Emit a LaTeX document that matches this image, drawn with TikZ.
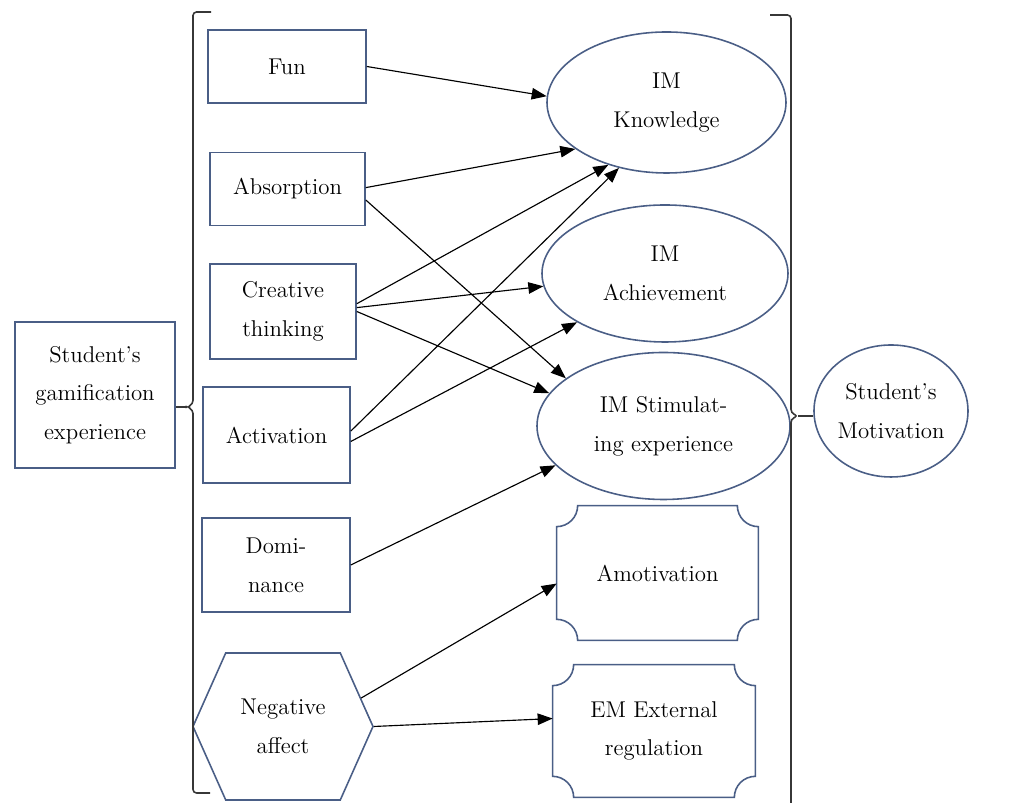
\documentclass[tikz,border=0pt]{standalone}
\usepackage{xcolor}
\usepackage{tikz}
\usetikzlibrary{arrows.meta, calc, shapes.geometric, shapes.symbols}

\definecolor{boxblue}{RGB}{74,94,134}
\definecolor{bracegray}{RGB}{55,55,55}

% frame with concave corners around a named node
\newcommand{\plaqueframe}[1]{%
	\draw[draw=boxblue, line width=0.9pt] ($(#1.north west)+(0.42,0)$) -- ($(#1.north east)+(-0.42,0)$)
		arc [start angle=180, end angle=270, radius=0.42] -- ($(#1.south east)+(0,0.42)$)
		arc [start angle=90, end angle=180, radius=0.42] -- ($(#1.south west)+(0.42,0)$)
		arc [start angle=0, end angle=90, radius=0.42] -- ($(#1.north west)+(0,-0.42)$)
		arc [start angle=270, end angle=360, radius=0.42] -- cycle;}

\begin{document}
\begin{tikzpicture}[
		every node/.style={font=\fontsize{13}{22}\selectfont, align=center},
		box/.style={draw=boxblue, line width=0.9pt, rectangle, inner sep=2pt},
		oval/.style={draw=boxblue, line width=0.9pt, ellipse, inner sep=0pt},
		link/.style={-{Triangle[length=0.3cm, width=0.23cm]}, line width=0.65pt},
		brace/.style={draw=bracegray, line width=0.9pt, rounded corners=2pt}
	]
		\useasboundingbox (0,0) rectangle (20.48,16.06);

		% left side
		\node[box, minimum width=3.2cm, minimum height=2.92cm] (gamexp) at (1.9,8.16) {Student's\\gamification\\experience};
		\node[box, minimum width=3.16cm, minimum height=1.46cm] (fun) at (5.74,14.73) {Fun};
		\node[box, minimum width=3.1cm, minimum height=1.46cm] (absorp) at (5.75,12.28) {Absorption};
		\node[box, minimum width=2.92cm, minimum height=1.9cm] (creat) at (5.66,9.83) {Creative\\thinking};
		\node[box, minimum width=2.94cm, minimum height=1.92cm] (activ) at (5.53,7.36) {Activation};
		\node[box, minimum width=2.96cm, minimum height=1.88cm] (domin) at (5.52,4.76) {Domi-\\nance};
		\node[draw=boxblue, line width=0.9pt, signal, signal to=west and east, signal pointer angle=132,
			minimum width=3.6cm, minimum height=2.94cm, inner sep=0pt] (negaff) at (5.66,1.53) {Negative\\affect};

		% right side
		\node[oval, minimum width=4.78cm, minimum height=2.82cm] (know) at (13.33,14.01) {IM\\Knowledge};
		\node[oval, minimum width=4.92cm, minimum height=2.74cm] (achv) at (13.30,10.59) {IM\\Achievement};
		\node[oval, minimum width=5.06cm, minimum height=2.94cm] (stim) at (13.27,7.54) {IM Stimulat-\\ing experience};
		\node[minimum width=4.02cm, minimum height=2.68cm] (amot) at (13.15,4.60) {Amotivation};
		\node[minimum width=4.04cm, minimum height=2.64cm] (emreg) at (13.08,1.44) {EM External\\regulation};
		\plaqueframe{amot}
		\plaqueframe{emreg}
		\node[oval, minimum width=3.08cm, minimum height=2.64cm] (motiv) at (17.82,7.84) {Student's\\Motivation};

		% brackets
		\coordinate (lbtip) at (3.74,7.92);
		\coordinate (rbtip) at (15.96,7.74);
		\draw[brace] (4.22,15.82) -- (3.86,15.82) -- (3.86,7.98) -- (lbtip) -- (3.86,7.86) -- (3.86,0.2) -- (4.2,0.2);
		\draw[brace] (15.4,15.76) -- (15.82,15.76) -- (15.82,7.8) -- (rbtip) -- (15.82,7.68) -- (15.82,-0.1);
		\draw[brace] (lbtip) -- (lbtip -| gamexp.east);
		\draw[brace] (rbtip) -- (rbtip -| motiv.west);

		% paths
		\draw[link] (fun.east) -- (know.177);
		\draw[link] (absorp.1) -- (know.207);
		\draw[link] (absorp.-8) -- (stim.154);
		\draw[link] (creat.6) -- (know.227);
		\draw[link] (creat.3) -- (achv.186);
		\draw[link] (creat.0) -- (stim.164);
		\draw[link] (activ.3) -- (know.234);
		\draw[link] (activ.-5) -- (achv.209);
		\draw[link] (domin.east) -- (stim.200);
		\draw[link] (negaff.20) -- (amot.186);
		\draw[link] (negaff.east) -- (emreg.173);
	\end{tikzpicture}
\end{document}
